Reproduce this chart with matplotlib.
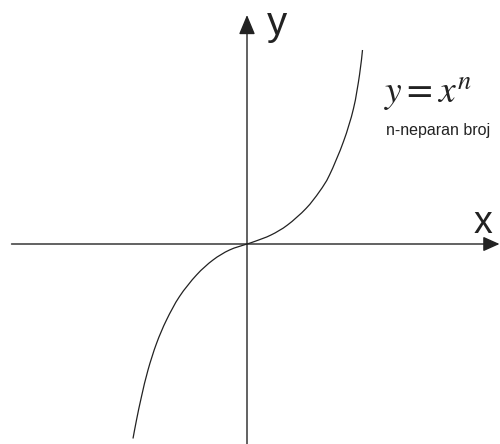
import matplotlib
matplotlib.use("Agg")
import matplotlib.pyplot as plt
from matplotlib.path import Path
from matplotlib.patches import PathPatch
import numpy as np

# Curve points (units: 1 = 50 px, origin at the axes crossing)
curve_x = [-2.28, -2.21, -2.11, -1.98, -1.81, -1.61, -1.35, -1.01, -0.68, -0.35, 0.0,
           0.15, 0.48, 0.81, 1.18, 1.45, 1.65, 1.93, 2.13, 2.25, 2.31]
curve_y = [-3.89, -3.52, -3.05, -2.52, -1.99, -1.52, -1.05, -0.62, -0.32, -0.12, 0.0,
           0.05, 0.18, 0.38, 0.71, 1.05, 1.38, 2.05, 2.71, 3.38, 3.88]

x_axis_range = [-4.71, 5.05]
y_axis_range = [-4.0, 4.58]

axis_labels = ["x", "y"]
formula = r"$y = x^n$"
note = "n-neparan broj"

plt.rcParams["mathtext.fontset"] = "stix"

fig = plt.figure(figsize=(5.0, 4.44), dpi=100)
ax = fig.add_axes([0, 0, 1, 1])
ax.set_xlim(-4.94, 5.06)
ax.set_ylim(-4.0, 4.88)
ax.axis("off")

col = "#222222"
# axes
ax.annotate("", xy=(x_axis_range[1], 0), xytext=(x_axis_range[0], 0),
            arrowprops=dict(arrowstyle="-|>,head_length=1.0,head_width=0.45",
                            color=col, lw=1.0, shrinkA=0, shrinkB=0))
ax.annotate("", xy=(0, y_axis_range[1]), xytext=(0, y_axis_range[0]),
            arrowprops=dict(arrowstyle="-|>,head_length=1.2,head_width=0.5",
                            color=col, lw=1.0, shrinkA=0, shrinkB=0))

# smooth curve through the read points (Catmull-Rom as cubic Bezier segments)
pts = np.column_stack([curve_x, curve_y])
ext = np.vstack([pts[0], pts, pts[-1]])
verts = [tuple(pts[0])]
codes = [Path.MOVETO]
for i in range(1, len(ext) - 2):
    p0, p1, p2, p3 = ext[i - 1], ext[i], ext[i + 1], ext[i + 2]
    c1 = p1 + (p2 - p0) / 6.0
    c2 = p2 - (p3 - p1) / 6.0
    verts += [tuple(c1), tuple(c2), tuple(p2)]
    codes += [Path.CURVE4] * 3
ax.add_patch(PathPatch(Path(verts, codes), facecolor="none", edgecolor=col, lw=0.9))

ax.text(4.72, 0.22, axis_labels[0], fontsize=27, family="Liberation Sans",
        color=col, ha="center", va="baseline")
ax.text(0.6, 4.18, axis_labels[1], fontsize=29, family="Liberation Sans",
        color=col, ha="center", va="baseline")

ax.text(2.74, 2.82, formula, fontsize=27, color=col, ha="left", va="baseline")
ax.text(2.78, 2.18, note, fontsize=11.5, family="Liberation Sans", color=col,
        ha="left", va="baseline")

fig.savefig("out.png", dpi=100)
